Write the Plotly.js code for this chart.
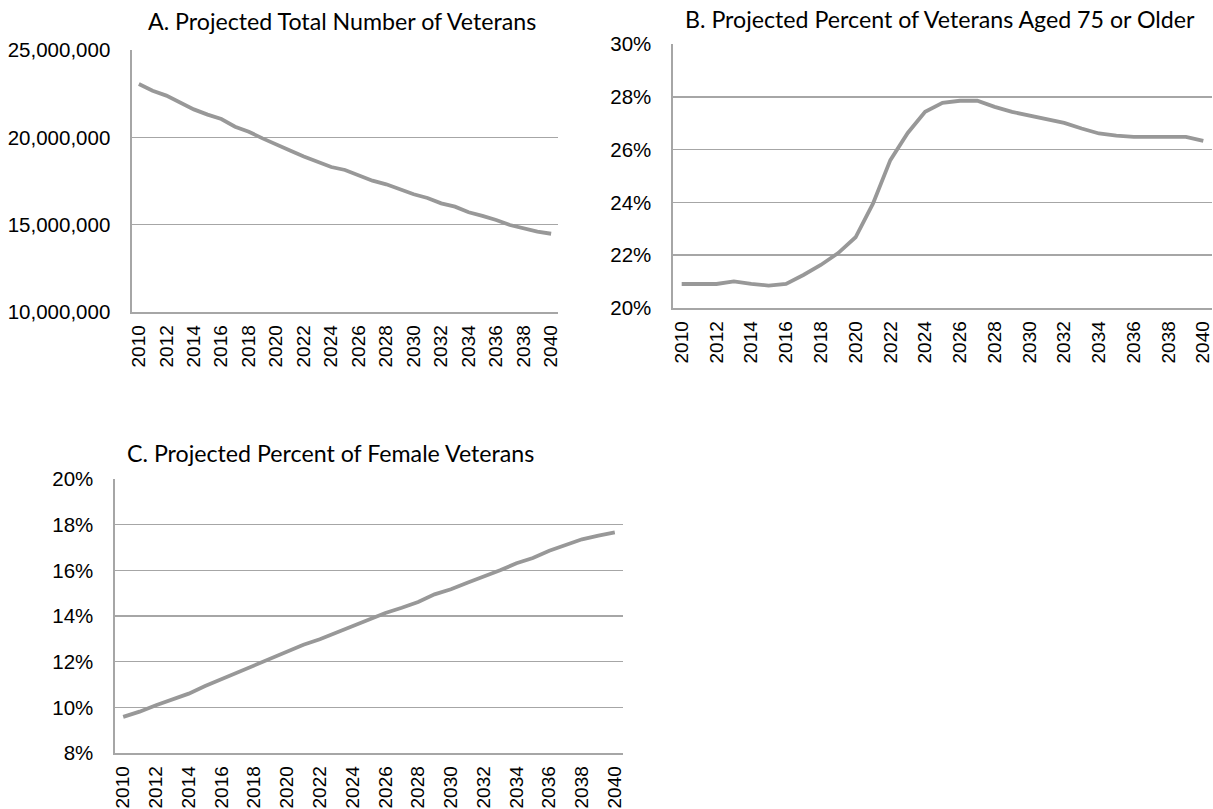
<!DOCTYPE html>
<html>
<head>
<meta charset="utf-8">
<script src="https://cdn.plot.ly/plotly-3.0.1.min.js"></script>
<style>html,body{margin:0;padding:0;background:#fff;}#chart{width:1213px;height:809px;}</style>
</head>
<body>
<div id="chart"></div>
<script>
const years = [2010,2011,2012,2013,2014,2015,2016,2017,2018,2019,2020,2021,2022,2023,2024,2025,2026,2027,2028,2029,2030,2031,2032,2033,2034,2035,2036,2037,2038,2039,2040];
const totalVeterans = [23050000,22670000,22390000,22000000,21600000,21300000,21050000,20610000,20320000,19940000,19560000,19240000,18900000,18600000,18300000,18130000,17840000,17520000,17310000,17020000,16740000,16530000,16220000,16030000,15710000,15500000,15270000,14980000,14790000,14600000,14480000];
const pctAged75 = [20.91,20.91,20.91,21.01,20.91,20.85,20.91,21.25,21.63,22.08,22.68,23.95,25.6,26.63,27.43,27.77,27.85,27.85,27.62,27.43,27.28,27.14,27.01,26.8,26.61,26.53,26.48,26.48,26.48,26.48,26.33];
const pctFemale = [9.58,9.81,10.09,10.36,10.6,10.93,11.23,11.5,11.84,12.13,12.42,12.74,12.98,13.27,13.52,13.81,14.13,14.36,14.61,14.95,15.17,15.46,15.71,16.0,16.31,16.54,16.86,17.12,17.36,17.52,17.66];
const xTickVals = [2010,2012,2014,2016,2018,2020,2022,2024,2026,2028,2030,2032,2034,2036,2038,2040];
const titles = ["A. Projected Total Number of Veterans","B. Projected Percent of Veterans Aged 75 or Older","C. Projected Percent of Female Veterans"];

const W = 1213, H = 809;
const lineStyle = {color:'rgb(152,152,152)', width:3.8};
const gridColor = 'rgb(166,166,166)';
const xTickFont = {family:'Liberation Sans, Arial, sans-serif', size:19, color:'#000'};
const yTickFont = {family:'Liberation Sans, Arial, sans-serif', size:20.5, color:'#000'};

function xAxis(domain, anchor){
  return {domain:domain, anchor:anchor, range:[2009.5,2040.5], tickmode:'array', tickvals:xTickVals,
    ticktext:xTickVals.map(String), tickangle:-90, showgrid:false, zeroline:false,
    showline:true, linecolor:gridColor, linewidth:1.6, ticks:'outside', ticklen:4, tickcolor:'rgba(0,0,0,0)',
    tickfont:xTickFont, ticklabeloverflow:'allow', fixedrange:true};
}
function yAxis(domain, anchor, range, dtick, suffix, fmt){
  return {domain:domain, anchor:anchor, range:range, dtick:dtick, tick0:range[0], ticksuffix:suffix||'',
    tickformat:fmt||'', showgrid:true, gridcolor:gridColor, gridwidth:1.6, zeroline:false,
    showline:true, linecolor:gridColor, linewidth:1.6, ticks:'outside', ticklen:16, tickcolor:'rgba(0,0,0,0)',
    tickfont:yTickFont, ticklabeloverflow:'allow', fixedrange:true};
}

const data = [
  {x:years, y:totalVeterans, type:'scatter', mode:'lines', line:lineStyle, xaxis:'x', yaxis:'y', hoverinfo:'skip'},
  {x:years, y:pctAged75, type:'scatter', mode:'lines', line:lineStyle, xaxis:'x2', yaxis:'y2', hoverinfo:'skip'},
  {x:years, y:pctFemale, type:'scatter', mode:'lines', line:lineStyle, xaxis:'x3', yaxis:'y3', hoverinfo:'skip'}
];

const titleFont = {family:'Lato, Open Sans, sans-serif', size:23.2, color:'#000'};
const layout = {
  width:W, height:H, margin:{l:0,r:0,t:0,b:0}, paper_bgcolor:'#fff', plot_bgcolor:'#fff', showlegend:false,
  xaxis: xAxis([132/W, 558/W], 'y'),
  yaxis: yAxis([1-312/H, 1-50/H], 'x', [10000000,25000000], 5000000, '', ',d'),
  xaxis2: xAxis([673/W, 1212/W], 'y2'),
  yaxis2: yAxis([1-308/H, 1-44/H], 'x2', [20,30], 2, '%'),
  xaxis3: xAxis([115/W, 623/W], 'y3'),
  yaxis3: yAxis([1-753/H, 1-479/H], 'x3', [8,20], 2, '%'),
  annotations: [
    {text:titles[0], xref:'paper', yref:'paper', x:342/W, y:1-21/H, xanchor:'center', yanchor:'middle', showarrow:false, font:titleFont},
    {text:titles[1], xref:'paper', yref:'paper', x:940/W, y:1-19/H, xanchor:'center', yanchor:'middle', showarrow:false, font:titleFont},
    {text:titles[2], xref:'paper', yref:'paper', x:330/W, y:1-453/H, xanchor:'center', yanchor:'middle', showarrow:false, font:titleFont}
  ]
};
Plotly.newPlot('chart', data, layout, {displayModeBar:false, staticPlot:true});
</script>
</body>
</html>
